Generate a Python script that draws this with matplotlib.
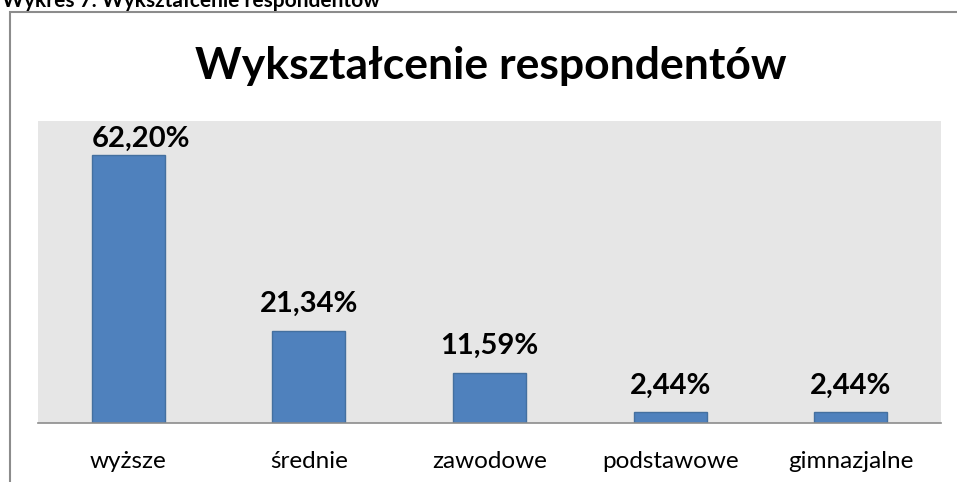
import matplotlib
import matplotlib.pyplot as plt
import matplotlib.patches as patches

categories = ['wyższe', 'średnie', 'zawodowe', 'podstawowe', 'gimnazjalne']
values = [62.20, 21.34, 11.59, 2.44, 2.44]

matplotlib.rc('font', family=['Lato', 'DejaVu Sans'])

W, H = 957, 482
fig = plt.figure(figsize=(W / 100, H / 100), dpi=100)

# outer frame of the chart (cut off at right and bottom)
frame = patches.Rectangle((9.5 / W, -0.1), 1.2, 1.1 - 11.5 / H, transform=fig.transFigure,
                          fill=False, edgecolor='#8c8c8c', linewidth=1.5)
fig.add_artist(frame)

fig.text(2 / W, 1 - 1 / H, 'Wykres 7. Wykształcenie respondentów', ha='left', va='center',
         fontsize=15, fontweight='bold')

fig.text(491 / W, 1 - 66 / H, 'Wykształcenie respondentów', ha='center', va='center',
         fontsize=32, fontweight='bold')

ax = fig.add_axes([38 / W, 1 - 423 / H, (941 - 38) / W, (423 - 121) / H])
ax.set_facecolor('#e6e6e6')
x = list(range(len(categories)))
bw = 0.405
ymax = 70
ax.bar(x, values, width=bw, color='#4f81bd', edgecolor='#44709f', linewidth=1)
for xi, v in zip(x, values):
    lbl = f'{v:.2f}%'.replace('.', ',')
    ly = v + 4.4
    if ly > ymax - 6:
        # label pushed inside the plot area, from the bar's left edge
        ax.text(xi - bw / 2, ymax - 6, lbl, ha='left', va='baseline', fontsize=21, fontweight='bold')
    else:
        ax.text(xi, ly, lbl, ha='center', va='baseline', fontsize=21, fontweight='bold')

ax.set_xlim(-0.5, len(categories) - 0.5)
ax.set_ylim(0, ymax)
ax.set_yticks([])
ax.set_xticks(x)
ax.set_xticklabels(categories, fontsize=17.5)
ax.tick_params(axis='x', length=0, pad=20)
for s in ['top', 'right', 'left']:
    ax.spines[s].set_visible(False)
ax.spines['bottom'].set_color('#8c8c8c')
ax.spines['bottom'].set_linewidth(1.2)

fig.savefig('out.png', dpi=100)
